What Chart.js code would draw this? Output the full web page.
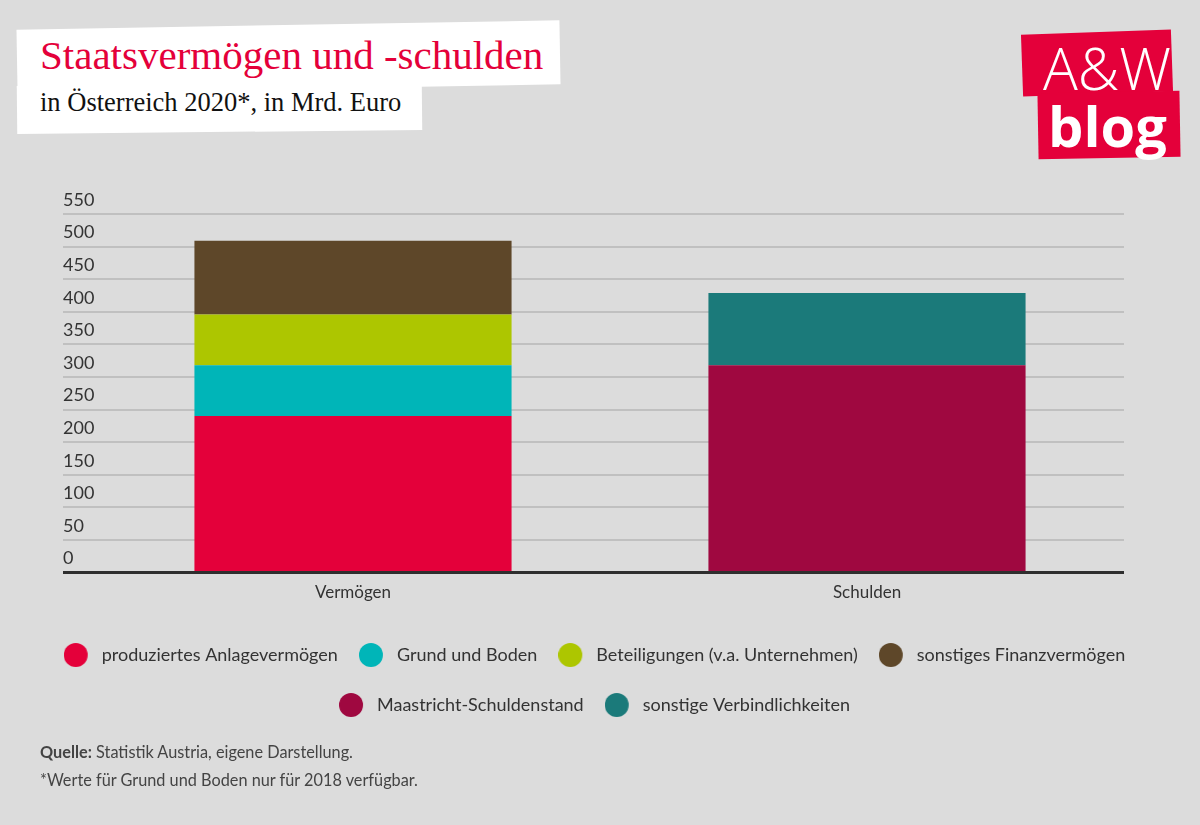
<!DOCTYPE html>
<html>
<head>
<meta charset="utf-8">
<script src="https://cdn.jsdelivr.net/npm/chart.js@4.4.1/dist/chart.umd.min.js"></script>
<style>
body { margin: 0; background: #dcdcdc; }
#wrap { position: relative; width: 1200px; height: 825px; background: #dcdcdc; overflow: hidden; }
#grafico { position: absolute; left: 0; top: 0; }
.weiss { position: absolute; background: #fff; }
.rot { position: absolute; background: #e4003a; }
.txt { position: absolute; white-space: nowrap; }
</style>
</head>
<body>
<div id="wrap">
  <div class="weiss" style="left:17px;top:25px;width:543px;height:64px;transform:rotate(-1deg)"></div>
  <div class="weiss" style="left:17px;top:84px;width:405px;height:48px;transform:rotate(-0.6deg)"></div>
  <div class="txt" style="left:40px;top:31px;font:41px 'Liberation Serif';color:#e4003a">Staatsvermögen und -schulden</div>
  <div class="txt" style="left:40px;top:87px;font:26.5px 'Liberation Serif';color:#111">in Österreich 2020*, in Mrd. Euro</div>

  <div class="rot" style="left:1022px;top:32px;width:150px;height:62px;transform:rotate(-2deg)"></div>
  <div class="rot" style="left:1038px;top:92px;width:142px;height:66px;transform:rotate(-1deg)"></div>
  <div class="txt" style="left:1043px;top:28px;font:300 58px 'Open Sans';color:#fff">A&amp;W</div>
  <div class="txt" style="left:1048px;top:87px;font:700 56px 'Open Sans';color:#fff">blog</div>

  <canvas id="grafico" width="1200" height="825"></canvas>

  <div class="txt" style="left:40px;top:742px;font:16.3px Lato;color:#444"><b>Quelle:</b> Statistik Austria, eigene Darstellung.</div>
  <div class="txt" style="left:40px;top:770px;font:16.3px Lato;color:#444">*Werte für Grund und Boden nur für 2018 verfügbar.</div>
</div>
<script>
// Werte in Mrd. Euro
let kategorien = ['Vermögen', 'Schulden']
let anlagevermoegen = [240, null]
let grundBoden = [78, null]
let beteiligungen = [78, null]
let finanzvermoegen = [113, null]
let maastricht = [null, 318]
let verbindlichkeiten = [null, 111]

let namen = ['produziertes Anlagevermögen', 'Grund und Boden', 'Beteiligungen (v.a. Unternehmen)',
             'sonstiges Finanzvermögen', 'Maastricht-Schuldenstand', 'sonstige Verbindlichkeiten']
let farben = ['#e4003a', '#00b5b8', '#adc600', '#5e4729', '#9f0840', '#1b7a7a']
let reihen = [anlagevermoegen, grundBoden, beteiligungen, finanzvermoegen, maastricht, verbindlichkeiten]

// kreis fuer die legende, etwas nach links versetzt
function punkt(farbe){
    let c = document.createElement('canvas')
    c.width = 40
    c.height = 24
    let ctx = c.getContext('2d')
    ctx.fillStyle = farbe
    ctx.beginPath()
    ctx.arc(12, 12, 12, 0, Math.PI * 2)
    ctx.fill()
    return c
}
let punkte = farben.map(f => punkt(f))

let datensaetze = reihen.map((r, i) => ({
    label: namen[i],
    data: r,
    backgroundColor: farben[i],
    borderWidth: 0,
    barPercentage: 0.617,
    categoryPercentage: 1
}))

let istNull = c => c.tick && c.tick.value === 0

new Chart(document.querySelector('#grafico'), {
    type: 'bar',
    data: { labels: kategorien, datasets: datensaetze },
    options: {
        responsive: false,
        animation: false,
        layout: { padding: { top: 214, bottom: 101, left: 0, right: 0 } },
        scales: {
            x: {
                stacked: true,
                grid: { display: false, drawTicks: false },
                border: { display: false },
                ticks: { color: '#333', font: { family: 'Lato', size: 17 }, padding: 10 },
                afterFit: s => { s.height += 1 }
            },
            y: {
                stacked: true,
                min: 0,
                max: 550,
                ticks: {
                    stepSize: 50, mirror: true, crossAlign: 'near', padding: -33, labelOffset: -14,
                    color: '#333', font: { family: 'Lato', size: 18 }
                },
                grid: {
                    color: c => istNull(c) ? '#2e2e2e' : '#c0c0c0',
                    tickColor: c => istNull(c) ? '#2e2e2e' : '#c0c0c0',
                    lineWidth: c => istNull(c) ? 3 : 2,
                    drawTicks: true,
                    tickLength: 33
                },
                border: { display: false },
                afterFit: s => { s.width = 96 }
            },
            rechts: {
                type: 'linear',
                position: 'right',
                grid: { display: false, drawTicks: false },
                ticks: { display: false },
                border: { display: false },
                afterFit: s => { s.width = 76 }
            }
        },
        plugins: {
            tooltip: { enabled: false },
            legend: {
                position: 'bottom',
                labels: {
                    usePointStyle: true,
                    padding: 32,
                    color: '#333',
                    font: { family: 'Lato', size: 18 },
                    generateLabels: chart => {
                        let items = Chart.defaults.plugins.legend.labels.generateLabels(chart)
                        items.forEach(it => { it.pointStyle = punkte[it.datasetIndex] })
                        return items
                    }
                }
            }
        }
    }
})
</script>
</body>
</html>
